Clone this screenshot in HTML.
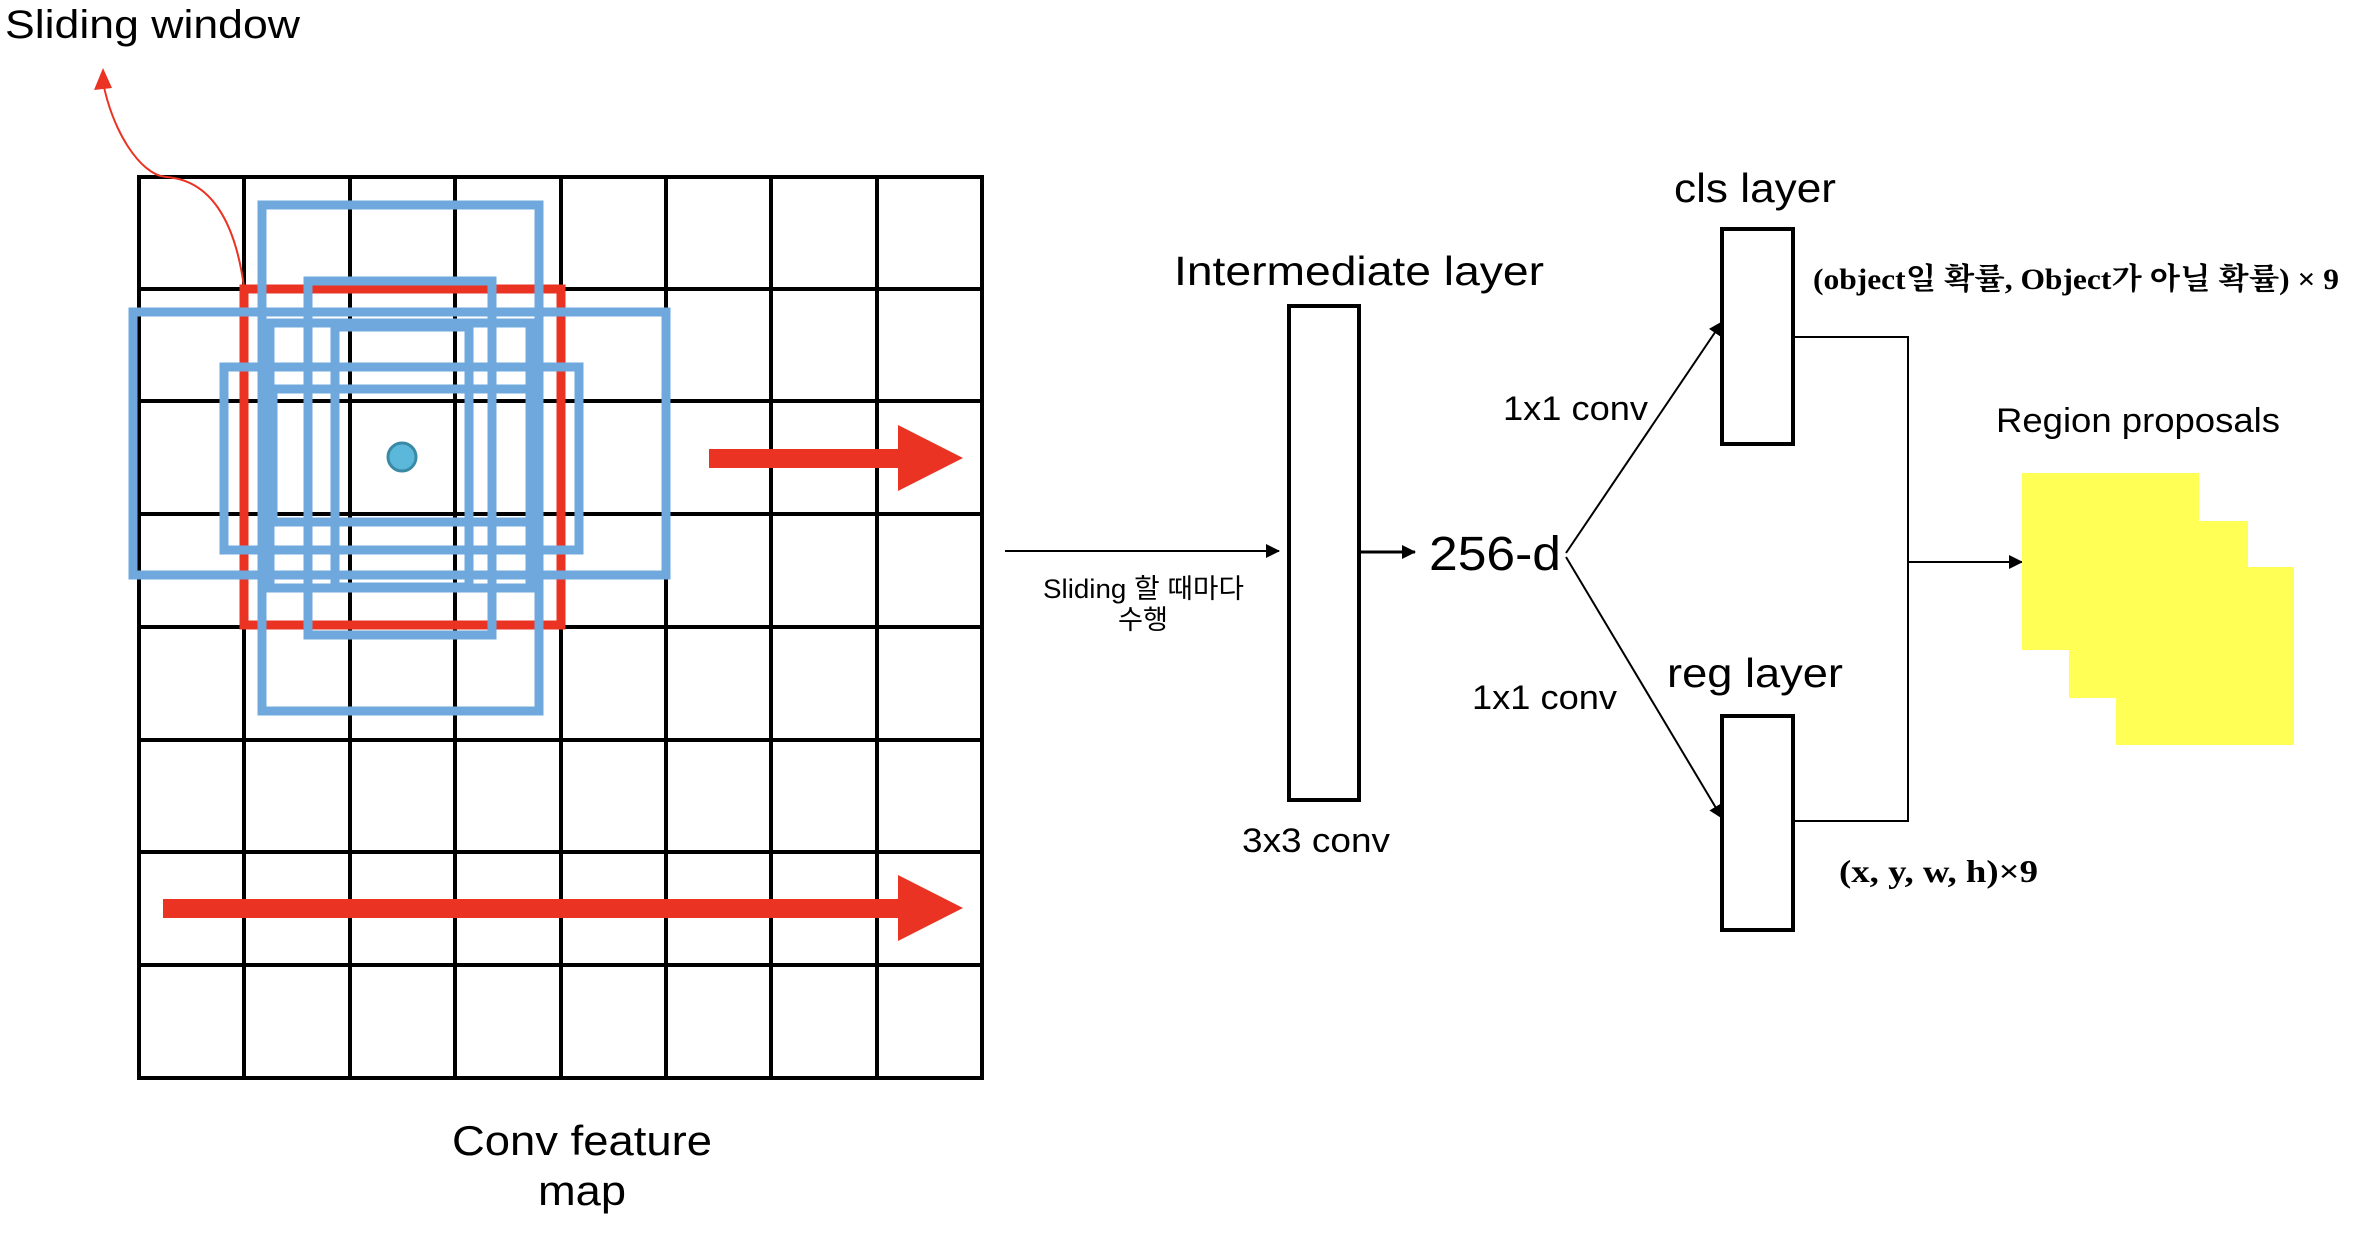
<!DOCTYPE html>
<html><head><meta charset="utf-8"><style>
html,body{margin:0;padding:0;background:#fff;}
svg{display:block}
.s{font-family:"Liberation Sans","Noto Sans CJK KR",sans-serif;fill:#000}
.b{font-family:"Liberation Serif","Noto Serif CJK SC","Noto Sans CJK KR",serif;font-weight:bold;fill:#000}
</style></head><body>
<svg width="2358" height="1236" viewBox="0 0 2358 1236" xmlns="http://www.w3.org/2000/svg">
<defs>
<marker id="ah" markerWidth="14" markerHeight="14" refX="13" refY="7" orient="auto" markerUnits="userSpaceOnUse" viewBox="0 0 14 14"><path d="M0,0 L14,7 L0,14 z" fill="#000"/></marker>
</defs>
<g stroke="#000" stroke-width="4" fill="none">
<rect x="139" y="177" width="843" height="901"/>
<line x1="244" y1="177" x2="244" y2="1078"/><line x1="350" y1="177" x2="350" y2="1078"/>
<line x1="455" y1="177" x2="455" y2="1078"/><line x1="561" y1="177" x2="561" y2="1078"/>
<line x1="666" y1="177" x2="666" y2="1078"/><line x1="771" y1="177" x2="771" y2="1078"/>
<line x1="877" y1="177" x2="877" y2="1078"/>
<line x1="139" y1="289" x2="982" y2="289"/><line x1="139" y1="401" x2="982" y2="401"/>
<line x1="139" y1="514" x2="982" y2="514"/><line x1="139" y1="627" x2="982" y2="627"/>
<line x1="139" y1="740" x2="982" y2="740"/><line x1="139" y1="852" x2="982" y2="852"/>
<line x1="139" y1="965" x2="982" y2="965"/>
</g>
<rect x="244" y="289" width="317" height="336" fill="none" stroke="#ea3323" stroke-width="9"/>
<g fill="none" stroke="#6fa8dc" stroke-width="9">
<rect x="262" y="205" width="277" height="506"/>
<rect x="308" y="281" width="184" height="354"/>
<rect x="133" y="312" width="533" height="263"/>
<rect x="224" y="367" width="355" height="183"/>
<rect x="270" y="323" width="260" height="265"/>
<rect x="335" y="327" width="134" height="260"/>
<rect x="273" y="389" width="257" height="133"/>
</g>
<circle cx="402" cy="457" r="14" fill="#5bb8db" stroke="#3a8aa6" stroke-width="3"/>
<rect x="709" y="449" width="192" height="19" fill="#ea3323"/>
<polygon points="898,425 963,458 898,491" fill="#ea3323"/>
<rect x="163" y="899" width="738" height="19" fill="#ea3323"/>
<polygon points="898,875 963,908 898,941" fill="#ea3323"/>
<path d="M244,287 C235,220 210,180 166,177 C140,175 112,130 103,82" fill="none" stroke="#ea3323" stroke-width="2"/>
<polygon points="103,68 94,90 112,88" fill="#ea3323"/>
<text x="5" y="38" class="s" font-size="40" textLength="295" lengthAdjust="spacingAndGlyphs">Sliding window</text>
<text x="452" y="1155" class="s" font-size="42" textLength="260" lengthAdjust="spacingAndGlyphs">Conv feature</text>
<text x="538" y="1205" class="s" font-size="42" textLength="88" lengthAdjust="spacingAndGlyphs">map</text>
<line x1="1005" y1="551" x2="1279" y2="551" stroke="#000" stroke-width="2" marker-end="url(#ah)"/>
<text x="1043" y="598" class="s" font-size="27" textLength="201" lengthAdjust="spacingAndGlyphs">Sliding 할 때마다</text>
<text x="1118" y="629" class="s" font-size="27" textLength="50" lengthAdjust="spacingAndGlyphs">수행</text>
<rect x="1289" y="306" width="70" height="494" fill="none" stroke="#000" stroke-width="4"/>
<text x="1174" y="285" class="s" font-size="41" textLength="370" lengthAdjust="spacingAndGlyphs">Intermediate layer</text>
<text x="1242" y="852" class="s" font-size="34" textLength="148" lengthAdjust="spacingAndGlyphs">3x3 conv</text>
<line x1="1360" y1="552" x2="1415" y2="552" stroke="#000" stroke-width="3" marker-end="url(#ah)"/>
<text x="1429" y="570" class="s" font-size="48" textLength="132" lengthAdjust="spacingAndGlyphs">256-d</text>
<line x1="1566" y1="553" x2="1722" y2="322" stroke="#000" stroke-width="2" marker-end="url(#ah)"/>
<line x1="1566" y1="557" x2="1722" y2="818" stroke="#000" stroke-width="2" marker-end="url(#ah)"/>
<rect x="1722" y="229" width="71" height="215" fill="none" stroke="#000" stroke-width="4"/>
<rect x="1722" y="716" width="71" height="214" fill="none" stroke="#000" stroke-width="4"/>
<text x="1674" y="202" class="s" font-size="41" textLength="162" lengthAdjust="spacingAndGlyphs">cls layer</text>
<text x="1667" y="687" class="s" font-size="41" textLength="176" lengthAdjust="spacingAndGlyphs">reg layer</text>
<text x="1503" y="420" class="s" font-size="34" textLength="145" lengthAdjust="spacingAndGlyphs">1x1 conv</text>
<text x="1472" y="709" class="s" font-size="34" textLength="145" lengthAdjust="spacingAndGlyphs">1x1 conv</text>
<text x="1813" y="289" class="b" font-size="30" textLength="526" lengthAdjust="spacingAndGlyphs">(object일 확률, Object가 아닐 확률) × 9</text>
<text x="1839" y="882" class="b" font-size="32" textLength="199" lengthAdjust="spacingAndGlyphs">(x, y, w, h)×9</text>
<polyline points="1793,337 1908,337 1908,821 1793,821" fill="none" stroke="#000" stroke-width="2"/>
<line x1="1908" y1="562" x2="2022" y2="562" stroke="#000" stroke-width="2" marker-end="url(#ah)"/>
<text x="1996" y="432" class="s" font-size="34" textLength="284" lengthAdjust="spacingAndGlyphs">Region proposals</text>
<g fill="#ffff55">
<rect x="2022" y="473" width="177" height="177"/>
<rect x="2069" y="521" width="179" height="177"/>
<rect x="2116" y="567" width="178" height="178"/>
</g>
</svg>
</body></html>
